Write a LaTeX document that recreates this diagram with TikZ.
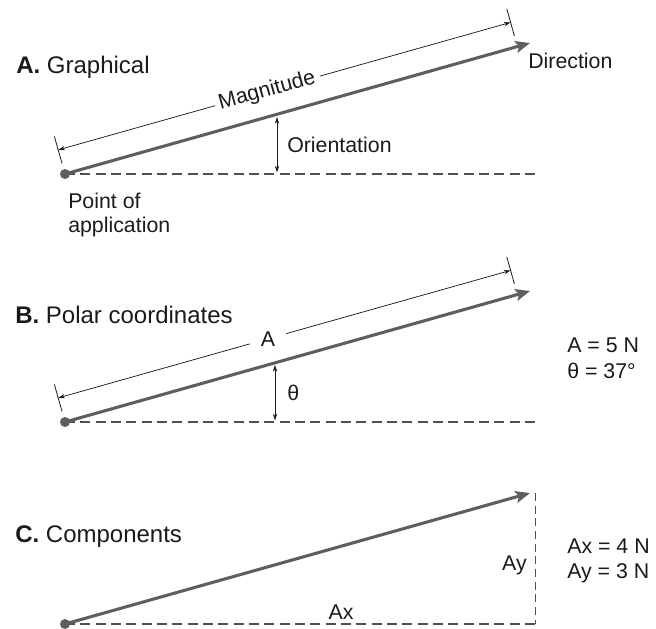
\documentclass[tikz,border=0pt]{standalone}
\usepackage{fontspec}
\setmainfont{Liberation Sans}
\usetikzlibrary{arrows.meta,calc}
\definecolor{vecgray}{HTML}{5E5E5E}
\definecolor{dashgray}{HTML}{505050}
\definecolor{ink}{HTML}{1A1A1A}
\begin{document}
\begin{tikzpicture}[x=0.75pt,y=-0.75pt,
  vec/.style={draw=vecgray, line width=2.3pt, -{Stealth[length=11pt,width=9pt,inset=2.5pt]}},
  baseln/.style={draw=dashgray, line width=1.1pt, dash pattern=on 7.5pt off 4pt},
  vdash/.style={draw=dashgray, line width=0.7pt, dash pattern=on 6pt off 3.5pt},
  dimln/.style={draw=ink, line width=0.55pt, -{Stealth[length=5pt,width=3.2pt]}},
  tickln/.style={draw=ink, line width=0.6pt},
  angln/.style={draw=ink, line width=0.6pt, {Stealth[length=5pt,width=3.2pt]}-{Stealth[length=5pt,width=3.2pt]}},
  title/.style={anchor=base west, font=\fontsize{18}{21}\selectfont, text=ink, inner sep=0pt},
  lab/.style={font=\fontsize{16}{18}\selectfont, text=ink, inner sep=0pt},
  pdot/.style={circle, fill=vecgray, minimum size=7.5pt, inner sep=0pt}]
\useasboundingbox (0,0) rectangle (656,628);

% ---------------- A. Graphical ----------------
\begin{scope}[shift={(0,174)}]
  \coordinate (Ao) at (65,0);
  \coordinate (At) at (530,-131);
  \coordinate (Ae) at (535,0);
  \draw[baseln] (Ao) -- (Ae);
  \draw[vec] (Ao) -- (At);
  \node[pdot] (Adot) at (Ao) {};
  \coordinate (Ad1) at (58.2,-24.1);
  \coordinate (Ad2) at (510.6,-151.6);
  \coordinate (Ag1) at (215.1,-68.3);
  \coordinate (Ag2) at (320.0,-97.9);
  \draw[dimln] (Ag1) -- (Ad1);
  \draw[dimln] (Ag2) -- (Ad2);
  \coordinate (Ak1a) at (62.0,-10.6);
  \coordinate (Ak1b) at (54.4,-37.6);
  \coordinate (Ak2a) at (514.4,-138.1);
  \coordinate (Ak2b) at (506.8,-165.1);
  \draw[tickln] (Ak1a) -- (Ak1b);
  \draw[tickln] (Ak2a) -- (Ak2b);
  \node[lab, rotate=15.73] (Amag) at (267.1,-83.0) {Magnitude};
  \coordinate (Aa1) at (277,-57);
  \coordinate (Aa2) at (277,-1.5);
  \draw[angln] (Aa1) -- (Aa2);
  \node[lab, anchor=west] (Aori) at (287,-29) {Orientation};
  \node[lab, anchor=base west] (Adir) at (528,-106) {Direction};
  \node[lab, anchor=north west, align=left] (Apt) at (68,19) {Point of\\application};
  \node[title] (Atitle) at (16,-101) {\textbf{A.} Graphical};
\end{scope}

% ---------------- B. Polar coordinates ----------------
\begin{scope}[shift={(0,422)}]
  \coordinate (Bo) at (65,0);
  \coordinate (Bt) at (530,-131);
  \coordinate (Be) at (535,0);
  \draw[baseln] (Bo) -- (Be);
  \draw[vec] (Bo) -- (Bt);
  \node[pdot] (Bdot) at (Bo) {};
  \coordinate (Bd1) at (58.2,-24.1);
  \coordinate (Bd2) at (510.6,-151.6);
  \coordinate (Bg1) at (249.7,-78.1);
  \coordinate (Bg2) at (286.3,-88.4);
  \draw[dimln] (Bg1) -- (Bd1);
  \draw[dimln] (Bg2) -- (Bd2);
  \coordinate (Bk1a) at (62.0,-10.6);
  \coordinate (Bk1b) at (54.4,-37.6);
  \coordinate (Bk2a) at (514.4,-138.1);
  \coordinate (Bk2b) at (506.8,-165.1);
  \draw[tickln] (Bk1a) -- (Bk1b);
  \draw[tickln] (Bk2a) -- (Bk2b);
  \node[lab] (Bmag) at (268.0,-83.2) {A};
  \coordinate (Ba1) at (275,-57);
  \coordinate (Ba2) at (275,-1.5);
  \draw[angln] (Ba1) -- (Ba2);
  \node[lab, anchor=west] (Bth) at (287,-29) {θ};
  \node[title] (Btitle) at (15,-99) {\textbf{B.} Polar coordinates};
  \node[lab, anchor=base west] (Bv1) at (567,-70) {A = 5 N};
  \node[lab, anchor=base west] (Bv2) at (567,-44) {θ = 37°};
\end{scope}

% ---------------- C. Components ----------------
\begin{scope}[shift={(0,624)}]
  \coordinate (Co) at (65,0);
  \coordinate (Ct) at (530,-131);
  \coordinate (Ce) at (535,0);
  \coordinate (Cv) at (535,-131);
  \draw[baseln] (Co) -- (Ce);
  \draw[vdash] (Cv) -- (Ce);
  \draw[vec] (Co) -- (Ct);
  \node[pdot] (Cdot) at (Co) {};
  \node[lab, anchor=base east] (Cay) at (527,-54) {Ay};
  \node[lab, anchor=base] (Cax) at (341,-5) {Ax};
  \node[title] (Ctitle) at (15,-82) {\textbf{C.} Components};
  \node[lab, anchor=base west] (Cv1) at (567,-71) {Ax = 4 N};
  \node[lab, anchor=base west] (Cv2) at (567,-46) {Ay = 3 N};
\end{scope}
\end{tikzpicture}
\end{document}
